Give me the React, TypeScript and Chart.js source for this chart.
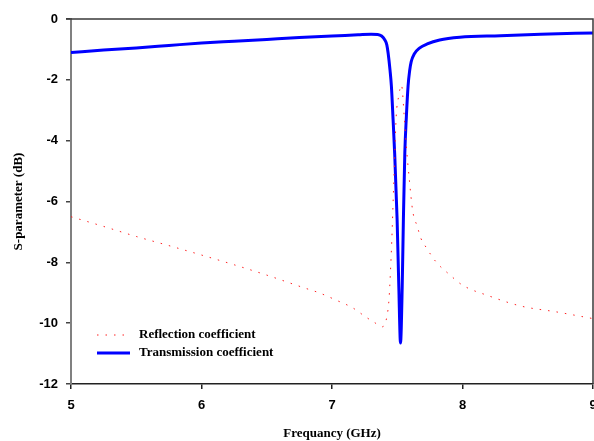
import React, { useEffect, useRef } from "react";
import { Chart, registerables } from "chart.js";

Chart.register(...registerables);

// Frequency (GHz) samples for transmission coefficient (S21)
const transFreq = [
  5.0, 5.25, 5.5, 5.75, 6.0, 6.25, 6.5, 6.75, 7.0, 7.2, 7.3, 7.35, 7.38, 7.405, 7.42, 7.43,
  7.445, 7.455, 7.468, 7.48, 7.499, 7.512, 7.525, 7.538, 7.547, 7.558, 7.57, 7.583, 7.595,
  7.607, 7.63, 7.67, 7.73, 7.825, 7.98, 8.29, 8.6, 9.0,
];
const transDb = [
  -1.1, -1.02, -0.95, -0.87, -0.79, -0.73, -0.67, -0.61, -0.56, -0.52, -0.5, -0.51, -0.56,
  -0.69, -0.85, -1.12, -1.7, -2.2, -3.3, -4.4, -6.6, -8.8, -10.65, -8.8, -6.6, -4.4, -3.2,
  -2.2, -1.7, -1.4, -1.15, -0.96, -0.82, -0.69, -0.6, -0.55, -0.5, -0.46,
];

// Frequency (GHz) samples for reflection coefficient (S11)
const reflFreq = [
  5.0, 5.25, 5.5, 5.75, 6.0, 6.25, 6.5, 6.78, 6.9, 7.03, 7.16, 7.26, 7.33, 7.385, 7.42,
  7.437, 7.448, 7.458, 7.468, 7.48, 7.492, 7.51, 7.532, 7.555, 7.568, 7.593, 7.618, 7.655,
  7.68, 7.72, 7.8, 7.9, 8.0, 8.2, 8.45, 8.72, 9.0,
];
const reflDb = [
  -6.5, -6.82, -7.15, -7.45, -7.76, -8.08, -8.42, -8.83, -9.0, -9.24, -9.5, -9.8, -9.99,
  -10.12, -9.8, -9.2, -8.3, -7.3, -6.05, -4.6, -3.2, -2.56, -2.17, -3.3, -4.1, -5.3, -6.3,
  -6.84, -7.2, -7.5, -8.0, -8.4, -8.75, -9.1, -9.44, -9.63, -9.85,
];

const xTicks = [5, 6, 7, 8, 9];
const yTicks = [0, -2, -4, -6, -8, -10, -12];

const seriesNames = ["Reflection coefficient", "Transmission coefficient"];

const tickFont = { family: "'Liberation Sans', Arial, sans-serif", size: 13, weight: "bold" as const };
const titleFont = { family: "'Liberation Serif', 'Times New Roman', serif", size: 13, weight: "bold" as const };

const framePlugin = {
  id: "frame",
  afterDatasetsDraw(chart: any) {
    const { ctx, chartArea } = chart;
    const { left, right, top, bottom } = chartArea;
    ctx.save();
    ctx.strokeStyle = "#3a3a3a";
    ctx.lineWidth = 1.5;
    ctx.beginPath();
    ctx.moveTo(left - 5, top);
    ctx.lineTo(right, top);
    ctx.lineTo(right, bottom);
    ctx.stroke();
    ctx.restore();
  },
};

const legendPlugin = {
  id: "insideLegend",
  afterDraw(chart: any) {
    const { ctx, chartArea } = chart;
    const x0 = chartArea.left + 26;
    const x1 = x0 + 33;
    const tx = x0 + 42;
    const y1 = chartArea.bottom - 49;
    const y2 = chartArea.bottom - 31;
    ctx.save();
    // reflection sample
    ctx.strokeStyle = "#ff2020";
    ctx.lineWidth = 1;
    ctx.setLineDash([1.5, 7]);
    ctx.beginPath();
    ctx.moveTo(x0, y1);
    ctx.lineTo(x1, y1);
    ctx.stroke();
    ctx.setLineDash([]);
    // transmission sample
    ctx.strokeStyle = "#0000ff";
    ctx.lineWidth = 3;
    ctx.beginPath();
    ctx.moveTo(x0, y2);
    ctx.lineTo(x1, y2);
    ctx.stroke();
    ctx.fillStyle = "#000";
    ctx.font = "bold 13px 'Liberation Serif', 'Times New Roman', serif";
    ctx.textBaseline = "middle";
    ctx.textAlign = "left";
    ctx.fillText(seriesNames[0], tx, y1);
    ctx.fillText(seriesNames[1], tx, y2);
    ctx.restore();
  },
};

export default function App() {
  const canvasRef = useRef<HTMLCanvasElement | null>(null);

  useEffect(() => {
    document.body.style.margin = "0";
    const canvas = canvasRef.current;
    if (!canvas) return;
    const chart = new Chart(canvas, {
      type: "line",
      data: {
        datasets: [
          {
            label: seriesNames[0],
            data: reflFreq.map((f, i) => ({ x: f, y: reflDb[i] })),
            borderColor: "#ff2020",
            borderWidth: 1,
            borderDash: [1.5, 7],
            pointRadius: 0,
            fill: false,
            cubicInterpolationMode: "monotone",
          },
          {
            label: seriesNames[1],
            data: transFreq.map((f, i) => ({ x: f, y: transDb[i] })),
            borderColor: "#0000ff",
            borderWidth: 3,
            pointRadius: 0,
            fill: false,
            cubicInterpolationMode: "monotone",
          },
        ],
      },
      options: {
        animation: false,
        responsive: true,
        maintainAspectRatio: false,
        layout: { padding: { left: 0, right: 1, top: 19, bottom: 0 } },
        plugins: {
          legend: { display: false },
          tooltip: { enabled: false },
        },
        scales: {
          x: {
            type: "linear",
            min: 5,
            max: 9,
            afterBuildTicks: (scale: any) => {
              scale.ticks = xTicks.map((v) => ({ value: v }));
            },
            afterFit: (scale: any) => {
              scale.height = 57;
              scale.paddingLeft = 0;
              scale.paddingRight = 0;
            },
            grid: {
              display: true,
              drawOnChartArea: false,
              drawTicks: true,
              tickLength: 5,
              color: "#222",
              lineWidth: 1.5,
            },
            border: { display: true, color: "#222", width: 1.5 },
            ticks: {
              font: tickFont,
              color: "#000",
              padding: 9,
              maxRotation: 0,
              autoSkip: false,
            },
            title: {
              display: true,
              text: "Frequancy (GHz)",
              font: titleFont,
              color: "#000",
              padding: { top: 0, bottom: 0 },
            },
          },
          y: {
            type: "linear",
            min: -12,
            max: 0,
            afterBuildTicks: (scale: any) => {
              scale.ticks = yTicks.map((v) => ({ value: v }));
            },
            afterFit: (scale: any) => {
              scale.width = 71;
              scale.paddingTop = 0;
              scale.paddingBottom = 0;
            },
            grid: {
              display: true,
              drawOnChartArea: false,
              drawTicks: true,
              tickLength: 5,
              color: "#444",
              lineWidth: 1.5,
            },
            border: { display: true, color: "#808080", width: 2 },
            ticks: {
              font: tickFont,
              color: "#000",
              padding: 8,
              autoSkip: false,
            },
            title: {
              display: true,
              text: "S-parameter (dB)",
              font: titleFont,
              color: "#000",
              padding: { top: 11, bottom: 0 },
            },
          },
        },
      },
      plugins: [framePlugin, legendPlugin],
    });
    return () => chart.destroy();
  }, []);

  return (
    <div style={{ width: 594, height: 441, position: "relative" }}>
      <canvas ref={canvasRef} />
    </div>
  );
}
